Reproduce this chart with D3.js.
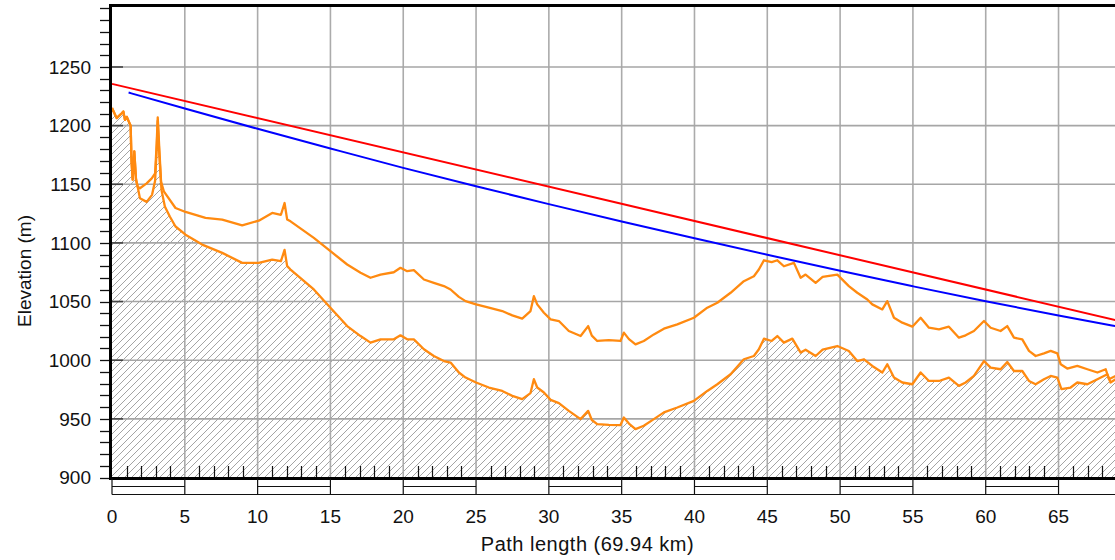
<!DOCTYPE html>
<html><head><meta charset="utf-8">
<script src="https://cdn.jsdelivr.net/npm/d3@7"></script>
<style>html,body{margin:0;padding:0;background:#fff;overflow:hidden}</style>
</head><body><svg id="c" width="1115" height="560"></svg>
<script>
// ---- data ----
const pathLengthKm = 69.94;
const xTicks = [0,5,10,15,20,25,30,35,40,45,50,55,60,65];
const yTicks = [900,950,1000,1050,1100,1150,1200,1250];
// terrain profile [km, m]
const terrain = [
[0,1215],[0.32,1206.4],[0.67,1210.6],[0.78,1212],[0.89,1204.9],[1.01,1207.5],[1.17,1203],[1.28,1200],
[1.34,1170],[1.42,1154],[1.53,1178],[1.65,1154],[1.76,1148],[1.92,1138],[2.38,1135],[2.75,1141],
[2.96,1153],[3.07,1180],[3.14,1204],[3.25,1175],[3.4,1145],[3.63,1131],[3.97,1122.5],[4.36,1114],
[5.05,1107],[6.19,1098.6],[7.57,1091.5],[8.94,1083],[10.08,1083],[11.0,1085.8],[11.6,1084.4],
[11.85,1094],[12.03,1080.2],[12.26,1077.3],[13.86,1060.3],[15.0,1044.8],[16.15,1029.1],[17.07,1020.6],
[17.75,1015],[18.44,1017.8],[19.35,1017.8],[19.81,1021.2],[20.27,1017.8],[20.73,1017.8],[21.42,1009.3],
[22.1,1003.6],[22.79,999.3],[23.25,998],[23.82,989.5],[24.28,985.2],[25,981],[25.88,976.7],[26.8,973.8],
[27.49,969.6],[28.17,966.8],[28.74,972],[28.97,983.8],[29.2,976.7],[29.66,972.5],[30.12,966.2],
[30.69,963.4],[31.37,956.8],[32.18,949.8],[32.7,956.8],[32.95,949],[33.32,945.5],[34.12,944.9],
[34.92,944.7],[35.15,951.2],[35.5,946],[35.95,941.3],[36.52,944.1],[37.21,949.8],[37.9,955.5],
[38.82,959.7],[39.96,965.3],[40.88,973.8],[41.57,979.5],[42.48,988],[43.39,1000.8],[44.08,1003.6],
[44.42,1009.3],[44.77,1018.4],[45.3,1016.4],[45.69,1020.6],[46.14,1015],[46.72,1018.4],[47.29,1006.5],
[47.63,1009],[48.32,1003.6],[48.8,1009],[49.81,1012.1],[50.6,1007.9],[51.18,999.3],[51.64,1000.8],
[52.21,995.1],[52.9,989.5],[53.24,996.5],[53.7,985.2],[54.27,981],[54.96,979.5],[55.53,989.5],
[56.1,982.3],[56.79,982.3],[57.47,985.2],[58.16,978.1],[58.62,981],[59.19,986.6],[59.88,999.3],
[60.34,993.7],[61.02,992.3],[61.48,998.5],[61.94,990.8],[62.51,990.8],[62.97,982.3],[63.43,979.5],
[64.0,983.8],[64.46,986.6],[64.92,985.2],[65.2,975.3],[65.83,976.7],[66.29,981],[66.98,979.5],
[67.67,983.8],[68.35,988],[68.57,981],[68.92,983.8],[69.94,985]
];
// terrain + earth bulge profile [km, m]
const terrainBulge = [
[0,1215],[0.32,1206.4],[0.67,1210.6],[0.78,1212],[0.89,1204.9],[1.01,1207.5],[1.17,1203],[1.28,1200],
[1.34,1170],[1.42,1154],[1.53,1178],[1.65,1154],[1.76,1148],[1.92,1146.6],[2.38,1150.8],[2.73,1155],
[2.96,1159.3],[3.07,1185],[3.14,1207],[3.25,1180],[3.37,1152],[3.56,1144],[4.36,1129.8],[5.05,1126.4],
[6.42,1121.3],[7.57,1119.9],[8.94,1115],[10.08,1119],[11.0,1125.6],[11.6,1124],[11.85,1134],
[12.03,1119.9],[12.26,1118.4],[13.86,1104.3],[15.0,1093],[16.15,1081.6],[17.07,1074.5],[17.75,1070.3],
[18.44,1073],[19.35,1075],[19.81,1078.8],[20.27,1075.9],[20.73,1076.8],[21.42,1068.8],[22.1,1066],
[22.79,1063.2],[23.25,1060.3],[23.82,1054],[24.28,1050.4],[25,1047.6],[25.88,1044.8],[26.8,1041.9],
[27.49,1038.2],[28.17,1035.4],[28.74,1041.9],[28.97,1054.6],[29.2,1047.6],[29.66,1040.5],[30.12,1034.8],
[30.69,1033.4],[31.37,1024.9],[32.18,1020.6],[32.7,1029.1],[32.95,1021],[33.32,1016.4],[34.12,1017.2],
[34.92,1016.4],[35.15,1023.5],[35.5,1018],[35.95,1013.5],[36.52,1016.4],[37.21,1022],[37.9,1026.9],
[38.82,1030.6],[39.96,1036.2],[40.88,1044.8],[41.57,1049],[42.48,1057.5],[43.39,1067.4],[44.08,1071.6],
[44.42,1077.3],[44.77,1085.2],[45.3,1083.6],[45.69,1085.2],[46.14,1080.1],[46.83,1083],[47.29,1070.3],
[47.63,1073],[48.32,1066],[48.8,1071],[49.81,1073],[50.6,1063.2],[51.18,1057.5],[51.87,1051.8],
[52.21,1047.6],[52.9,1043.3],[53.24,1050.4],[53.7,1036.2],[54.27,1032],[54.96,1028.6],[55.53,1036.2],
[56.1,1027.7],[56.79,1026.3],[57.47,1028.6],[58.16,1019.2],[58.62,1021.2],[59.19,1024.9],[59.88,1033.4],
[60.34,1027.7],[61.02,1024.9],[61.48,1029.1],[61.94,1019.2],[62.51,1017.8],[62.97,1007.9],[63.43,1003.6],
[64.0,1005.9],[64.46,1007.9],[64.92,1005.9],[65.15,996.5],[65.6,992.9],[66.29,995.1],[66.98,992.3],
[67.67,989.5],[68.24,992.3],[68.46,983.8],[68.92,986.6],[69.94,985]
];
// line of sight (red)
const lineOfSight = [[0,1235.6],[69.94,1031.2]];
// Fresnel clearance line (blue)
const fresnelLine = [
[1.14,1228.2],[5,1214.6],[10,1197.3],[15,1180.5],[20,1164],[25,1148.3],[30,1133.1],[35,1118.3],
[40,1103.9],[45,1089.9],[50,1076.2],[55,1063],[60,1050.2],[65,1038.2],[68.92,1029.1]
];

// ---- chart ----
const svg = d3.select("#c");
const FONT = "'Liberation Sans', Arial, sans-serif";
const x = d3.scaleLinear().domain([0, pathLengthKm]).range([112, 112 + pathLengthKm*14.562]);
const y = d3.scaleLinear().domain([900, 1302]).range([477.5, 6]);
const L = 110.5, R = 1115, T = 5.5, B = 478.5;

const defs = svg.append("defs");
const pat = defs.append("pattern").attr("id","hatch").attr("patternUnits","userSpaceOnUse")
  .attr("width",7).attr("height",7);
pat.append("path").attr("d","M-1,1 L1,-1 M0,7 L7,0 M6,8 L8,6")
  .attr("stroke","#9a9a9a").attr("stroke-width",0.9).attr("fill","none");

// hatched terrain
const area = d3.area().x(d=>x(d[0])).y0(y(900)).y1(d=>y(d[1]));
svg.append("path").datum(terrain).attr("d",area).attr("fill","url(#hatch)");

// grid
const g = svg.append("g");
g.selectAll(".vg").data(xTicks.filter(d=>d>0)).join("line")
  .attr("x1",d=>x(d)).attr("x2",d=>x(d)).attr("y1",T).attr("y2",B)
  .attr("stroke","#ababab").attr("stroke-width",1.6);
g.selectAll(".hg").data(yTicks.filter(d=>d>900)).join("line")
  .attr("x1",L).attr("x2",R).attr("y1",d=>y(d)).attr("y2",d=>y(d))
  .attr("stroke","#a6a6a6").attr("stroke-width",1.6);

// minor x ticks (every km)
const minorX = d3.range(1, 70).filter(d=>d%5!==0);
svg.selectAll(".mx").data(minorX).join("line")
  .attr("x1",d=>Math.round(x(d))+0.5).attr("x2",d=>Math.round(x(d))+0.5)
  .attr("y1",466).attr("y2",B).attr("stroke","#111").attr("stroke-width",1.2);

// lines
const line = d3.line().x(d=>x(d[0])).y(d=>y(d[1]));
svg.append("path").datum(terrainBulge).attr("d",line).attr("fill","none")
  .attr("stroke","#ff8a10").attr("stroke-width",2.3).attr("stroke-linejoin","round");
svg.append("path").datum(terrain).attr("d",line).attr("fill","none")
  .attr("stroke","#ff8a10").attr("stroke-width",2.3).attr("stroke-linejoin","round");
svg.append("path").datum(lineOfSight).attr("d",line).attr("fill","none")
  .attr("stroke","#ff0000").attr("stroke-width",2);
svg.append("path").datum(fresnelLine).attr("d",d3.line().x(d=>x(d[0])).y(d=>y(d[1])).curve(d3.curveMonotoneX))
  .attr("fill","none").attr("stroke","#0000ff").attr("stroke-width",2);

// y ticks
const minorY = d3.range(900, 1301, 10);
svg.selectAll(".my").data(minorY).join("line")
  .attr("x1",100).attr("x2",L).attr("y1",d=>Math.round(y(d))+0.5).attr("y2",d=>Math.round(y(d))+0.5)
  .attr("stroke","#111").attr("stroke-width",1.3);
svg.selectAll(".My").data(yTicks.filter(d=>d>900)).join("line")
  .attr("x1",L).attr("x2",123).attr("y1",d=>y(d)).attr("y2",d=>y(d))
  .attr("stroke","#444").attr("stroke-width",1.6);
svg.selectAll(".yl").data(yTicks).join("text")
  .attr("x",91).attr("y",d=>y(d)).attr("dy","0.36em").attr("text-anchor","end")
  .attr("font-family",FONT).attr("font-size",19).attr("fill","#111").text(d=>d);

// frame
svg.append("line").attr("x1",L).attr("x2",R).attr("y1",T).attr("y2",T).attr("stroke","#000").attr("stroke-width",3);
svg.append("line").attr("x1",L).attr("x2",L).attr("y1",T-1.5).attr("y2",B+1.5).attr("stroke","#000").attr("stroke-width",3);
svg.append("line").attr("x1",L-1.5).attr("x2",R).attr("y1",B).attr("y2",B).attr("stroke","#000").attr("stroke-width",3);

// scale strip under x axis
const segs = d3.range(0, 70, 5);
const sg = svg.append("g").attr("stroke","#111").attr("stroke-width",1.2);
sg.selectAll(".sv").data(segs.concat([70])).join("line")
  .attr("x1",d=>x(d)).attr("x2",d=>x(d)).attr("y1",B).attr("y2",494.5);
sg.append("line").attr("x1",x(0)).attr("x2",x(70)).attr("y1",494.5).attr("y2",494.5);
sg.selectAll(".sm").data(segs.filter((d,i)=>i%2===0)).join("line")
  .attr("x1",d=>x(d)).attr("x2",d=>x(d+5)).attr("y1",486.5).attr("y2",486.5);

// x labels
svg.selectAll(".xl").data(xTicks).join("text")
  .attr("x",d=>x(d)).attr("y",523).attr("text-anchor","middle")
  .attr("font-family",FONT).attr("font-size",19).attr("fill","#111").text(d=>d);

// axis titles
svg.append("text").attr("x",587.5).attr("y",551).attr("text-anchor","middle")
  .attr("font-family",FONT).attr("font-size",20).attr("letter-spacing",0.5).attr("fill","#111")
  .text("Path length (" + pathLengthKm + " km)");
svg.append("text").attr("transform","translate(31,271) rotate(-90)").attr("text-anchor","middle")
  .attr("font-family",FONT).attr("font-size",19).attr("fill","#111").text("Elevation (m)");
</script></body></html>
